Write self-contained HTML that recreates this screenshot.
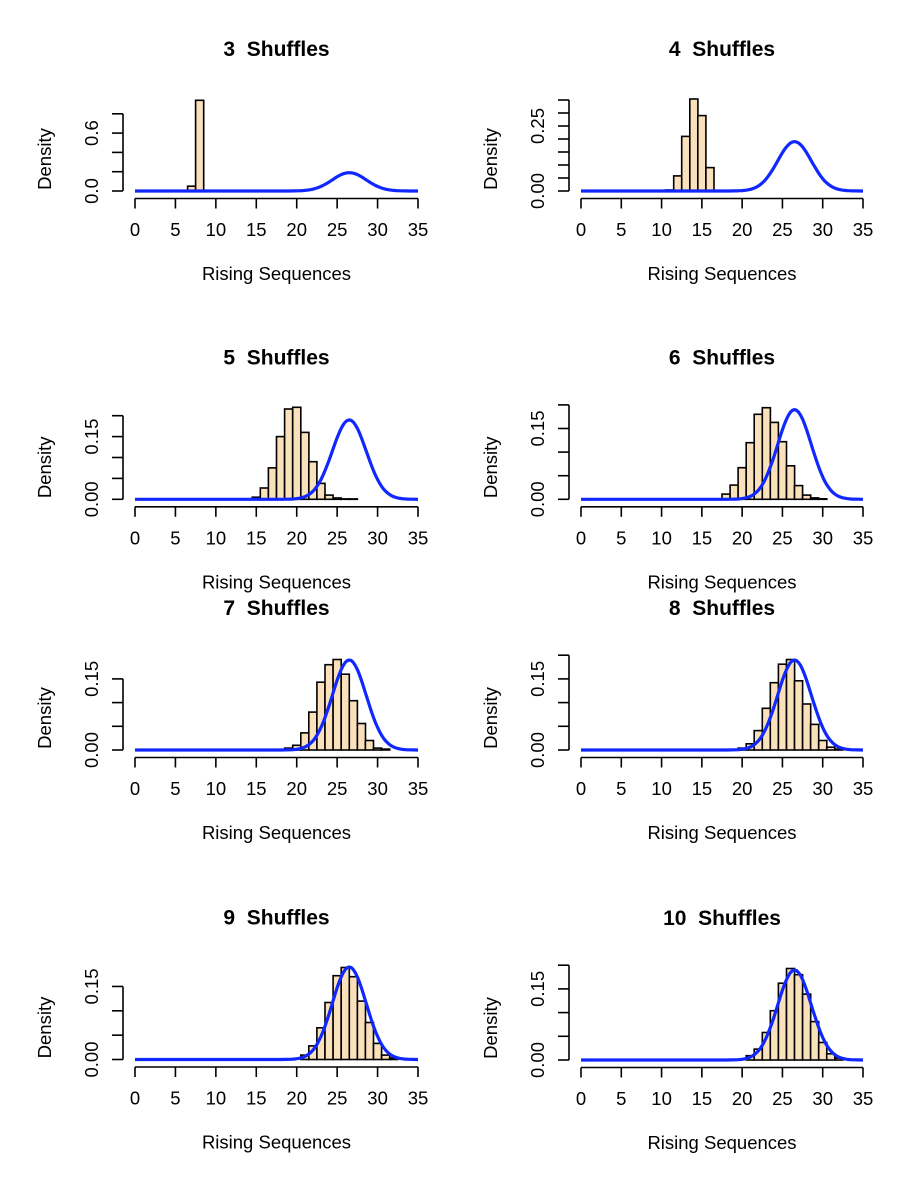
<!DOCTYPE html>
<html><head><meta charset="utf-8"><style>
html,body{margin:0;padding:0;background:#fff;}
svg{display:block;}
text{font-family:"Liberation Sans",sans-serif;fill:#000;}
</style></head><body>
<svg id="s" width="923" height="1200" viewBox="0 0 923 1200" xmlns="http://www.w3.org/2000/svg"></svg>
<script>
var panels=[
 {t:"3\u00a0\u00a0Shuffles",col:0,base:191,sc:96.5,top:0.8,step:0.2,labs:[[0,"0.0"],[0.6,"0.6"]],start:6.5,h:[0.05,0.94]},
 {t:"4\u00a0\u00a0Shuffles",col:1,base:191,sc:260,top:0.35,step:0.05,labs:[[0,"0.00"],[0.25,"0.25"]],start:10.5,h:[0.004,0.058,0.21,0.354,0.29,0.09]},
 {t:"5\u00a0\u00a0Shuffles",col:0,base:499.3,sc:418,top:0.2,step:0.05,labs:[[0,"0.00"],[0.15,"0.15"]],start:14.5,h:[0.005,0.027,0.075,0.15,0.216,0.22,0.16,0.09,0.038,0.01,0.003,0.001,0.001]},
 {t:"6\u00a0\u00a0Shuffles",col:1,base:499.3,sc:472,top:0.2,step:0.05,labs:[[0,"0.00"],[0.15,"0.15"]],start:17.5,h:[0.011,0.03,0.067,0.12,0.18,0.194,0.163,0.122,0.071,0.029,0.009,0.003,0.001]},
 {t:"7\u00a0\u00a0Shuffles",col:0,base:750,sc:474,top:0.15,step:0.05,labs:[[0,"0.00"],[0.15,"0.15"]],start:18.5,h:[0.004,0.01,0.036,0.08,0.143,0.18,0.191,0.16,0.104,0.056,0.02,0.004,0.002]},
 {t:"8\u00a0\u00a0Shuffles",col:1,base:750,sc:474,top:0.2,step:0.05,labs:[[0,"0.00"],[0.15,"0.15"]],start:19.5,h:[0.004,0.013,0.041,0.088,0.142,0.181,0.191,0.146,0.097,0.054,0.02,0.006,0.002]},
 {t:"9\u00a0\u00a0Shuffles",col:0,base:1059.5,sc:487,top:0.15,step:0.05,labs:[[0,"0.00"],[0.15,"0.15"]],start:20.5,h:[0.009,0.028,0.065,0.117,0.172,0.189,0.17,0.12,0.076,0.033,0.009,0.003]},
 {t:"10\u00a0\u00a0Shuffles",col:1,base:1060,sc:474,top:0.2,step:0.05,labs:[[0,"0.00"],[0.15,"0.15"]],start:20.5,h:[0.009,0.023,0.058,0.104,0.162,0.193,0.18,0.139,0.081,0.037,0.013,0.004]}
];
var o="";
panels.forEach(function(p){
 var x0=p.col?581:135, x1=p.col?863:418, ax=p.col?569:123;
 var k=(x1-x0)/35, B=p.base;
 function X(v){return x0+v*k;} function Y(d){return B-d*p.sc;}
 var cx=(x0+x1)/2;
 o+='<text x="'+cx+'" y="'+(B-135)+'" font-size="21" font-weight="bold" text-anchor="middle">'+p.t+'</text>';
 p.h.forEach(function(h,i){var a=X(p.start+i),b=X(p.start+i+1);
  o+='<rect x="'+a.toFixed(1)+'" y="'+Y(h).toFixed(1)+'" width="'+(b-a).toFixed(1)+'" height="'+(h*p.sc).toFixed(1)+'" fill="#fae0bb" stroke="#000" stroke-width="1.6"/>';});
 var pts=[];for(var v=0;v<=35.001;v+=0.25){var d=Math.exp(-Math.pow(v-26.5,2)/(2*2.1*2.1))/(2.1*Math.sqrt(2*Math.PI));pts.push(X(v).toFixed(1)+","+Y(d).toFixed(1));}
 o+='<polyline points="'+pts.join(" ")+'" fill="none" stroke="#1028ff" stroke-width="3.2"/>';
 o+='<line x1="'+ax+'" y1="'+B+'" x2="'+ax+'" y2="'+Y(p.top)+'" stroke="#000" stroke-width="1.6"/>';
 for(var t=0;t<=p.top+1e-9;t+=p.step){o+='<line x1="'+(ax-11)+'" y1="'+Y(t)+'" x2="'+ax+'" y2="'+Y(t)+'" stroke="#000" stroke-width="1.6"/>';}
 p.labs.forEach(function(l){var yy=Y(l[0]);o+='<text transform="translate('+(ax-25)+','+yy+') rotate(-90)" font-size="18.5" text-anchor="middle">'+l[1]+'</text>';});
 o+='<text transform="translate('+(ax-72)+','+(B-32)+') rotate(-90)" font-size="18.5" text-anchor="middle">Density</text>';
 var ay=B+7.5;
 o+='<line x1="'+x0+'" y1="'+ay+'" x2="'+x1+'" y2="'+ay+'" stroke="#000" stroke-width="1.6"/>';
 for(var v=0;v<=35;v+=5){o+='<line x1="'+X(v)+'" y1="'+ay+'" x2="'+X(v)+'" y2="'+(ay+10)+'" stroke="#000" stroke-width="1.6"/>';
  o+='<text x="'+X(v)+'" y="'+(B+45)+'" font-size="18.5" text-anchor="middle">'+v+'</text>';}
 o+='<text x="'+cx+'" y="'+(B+89)+'" font-size="18.5" text-anchor="middle">Rising Sequences</text>';
});
document.getElementById("s").innerHTML=o;
</script>
</body></html>
